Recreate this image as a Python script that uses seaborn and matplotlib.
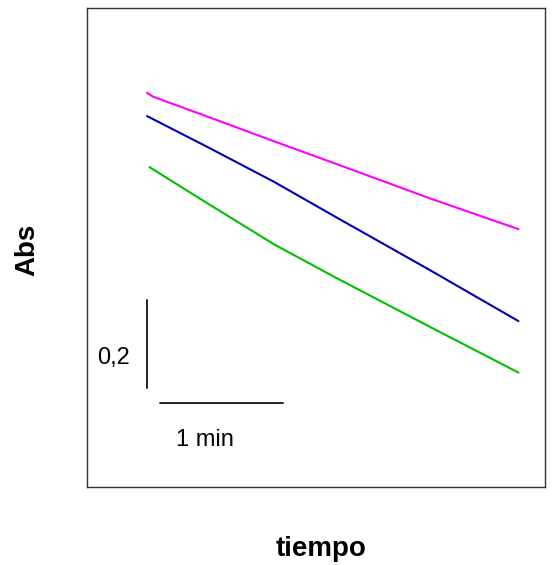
import matplotlib
matplotlib.use("Agg")
import matplotlib.pyplot as plt
import seaborn as sns
import pandas as pd

# data (time in min, absorbance)
t_magenta = [0.0, 0.05, 0.49, 1.03, 1.57, 2.30, 3.02]
abs_magenta = [0.896, 0.887, 0.842, 0.786, 0.731, 0.656, 0.586]
t_blue = [0.0, 0.49, 1.03, 1.57, 2.30, 3.02]
abs_blue = [0.843, 0.773, 0.694, 0.608, 0.493, 0.377]
t_green = [0.02, 0.49, 1.03, 1.52, 2.30, 3.02]
abs_green = [0.727, 0.645, 0.552, 0.478, 0.364, 0.260]

series_names = ["magenta", "blue", "green"]
series_colors = ["#FF00FF", "#0000B8", "#00C000"]

df = pd.concat([
    pd.DataFrame({"t": t_magenta, "A": abs_magenta, "s": "magenta"}),
    pd.DataFrame({"t": t_blue, "A": abs_blue, "s": "blue"}),
    pd.DataFrame({"t": t_green, "A": abs_green, "s": "green"}),
])

sns.set_style("white")
plt.rcParams['font.family'] = ['Liberation Sans', 'DejaVu Sans']
plt.rcParams['text.color'] = 'black'
plt.rcParams['axes.labelcolor'] = 'black'

fig = plt.figure(figsize=(5.57, 5.65), dpi=100)
ax = fig.add_axes([87/557, 78/565, 458/557, 479/565])

sns.lineplot(data=df, x="t", y="A", hue="s", hue_order=series_names,
             palette=dict(zip(series_names, series_colors)), linewidth=1.5,
             legend=False, ax=ax, sort=False, estimator=None)

ax.set_xlim((87-147)/123, (545-147)/123)
ax.set_ylim(0, 479/440)
ax.set_xticks([])
ax.set_yticks([])
for sp in ax.spines.values():
    sp.set_color("#333333")
    sp.set_linewidth(1.0)

# scale bars
ax.plot([0, 0], [0.225, 0.425], color="#111111", lw=1.3)
ax.plot([0.106, 1.106], [0.191, 0.191], color="#111111", lw=1.3)
ax.text(-0.276, 0.293, "0,2", ha="center", va="center", fontsize=17)
ax.text(0.47, 0.107, "1 min", ha="center", va="center", fontsize=17)

ax.set_xlabel("tiempo", fontsize=20, fontweight="bold")
ax.set_ylabel("Abs", fontsize=20, fontweight="bold")
ax.xaxis.set_label_coords((321-87)/458, (487-549)/479)
ax.xaxis.label.set_va("center")
ax.yaxis.set_label_coords((27-87)/458, (487-250)/479)
ax.yaxis.label.set_va("center")

fig.savefig("out.png", dpi=100)
